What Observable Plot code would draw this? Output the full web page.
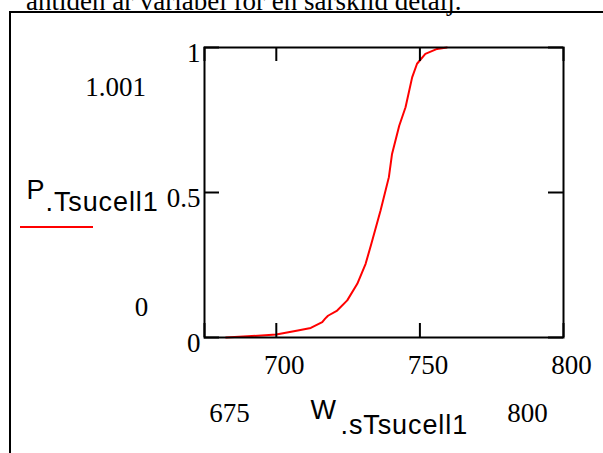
<!DOCTYPE html>
<html>
<head>
<meta charset="utf-8">
<script src="https://cdn.jsdelivr.net/npm/d3@7"></script>
<script src="https://cdn.jsdelivr.net/npm/@observablehq/plot@0.6"></script>
<style>
  html, body { margin: 0; padding: 0; background: #fff; color: #000; }
  #wrap { position: relative; width: 603px; height: 453px; overflow: hidden; background: #fff; }
  #outer { position: absolute; left: 9px; top: 11px; width: 700px; height: 600px; border-left: 2px solid #000; border-top: 2px solid #000; }
  #swatch { position: absolute; left: 20px; top: 226px; width: 73px; height: 2px; background: #ff0000; }
  #chart { position: absolute; left: 0; top: 0; }
  .wide text { letter-spacing: 0.9px; }
</style>
</head>
<body>
<div id="wrap">
  <div id="outer"></div>
  <div id="swatch"></div>
  <div id="chart"></div>
</div>
<script>
// Data (cumulative distribution)
const W = [682.5, 690, 700, 707.5, 712, 716, 717, 718, 721.2, 724.7, 728.2, 731.1, 733, 736.3, 739.2, 740.3, 742.8, 745, 747.3, 749, 751.9, 756, 759.4];
const P = [0, 0.004, 0.01, 0.024, 0.033, 0.053, 0.065, 0.075, 0.093, 0.128, 0.185, 0.254, 0.32, 0.438, 0.553, 0.633, 0.73, 0.794, 0.897, 0.944, 0.978, 0.995, 1.0];
const xTicks = [675, 700, 750, 800];
const xTickLabels = [700, 750, 800];
const yTicks = [0, 0.5, 1];
const xLimits = ["675", "800"];
const yLimits = ["1.001", "0"];
const caption = "antiden är variabel för en särskild detalj.";

const data = W.map((w, i) => ({w, p: P[i]}));
const serif = "Liberation Serif, Times New Roman, serif";
const sans = "Liberation Sans, Arial, sans-serif";
const fw = 359, fh = 290; // frame size in px

const txt = (s, o) => Plot.text([s], {text: d => d, frameAnchor: "top-left", lineAnchor: "bottom", fill: "black", ...o});

const chart = Plot.plot({
  width: 603,
  height: 453,
  marginLeft: 204,
  marginRight: 40,
  marginTop: 47,
  marginBottom: 116,
  style: {background: "none", overflow: "visible"},
  x: {domain: [675, 800]},
  y: {domain: [0, 1]},
  marks: [
    Plot.line(data, {x: "w", y: "p", stroke: "#ff0000", strokeWidth: 2}),
    Plot.frame({stroke: "black", strokeWidth: 2}),
    Plot.tickX(xTicks, {x: d => d, stroke: "black", strokeWidth: 2, insetTop: fh - 14}),
    Plot.tickX(xTicks, {x: d => d, stroke: "black", strokeWidth: 2, insetBottom: fh - 14}),
    Plot.tickY(yTicks, {y: d => d, stroke: "black", strokeWidth: 2, insetRight: fw - 15}),
    Plot.tickY(yTicks, {y: d => d, stroke: "black", strokeWidth: 2, insetLeft: fw - 15}),
    Plot.axisX({ticks: xTickLabels, tickSize: 0, tickPadding: 36, lineAnchor: "bottom", dx: 8, fontSize: 27, fontFamily: serif, label: null, tickFormat: d => String(d)}),
    Plot.axisY({ticks: yTicks, tickSize: 0, tickPadding: 4, lineAnchor: "bottom", dy: 14, fontSize: 27, fontFamily: serif, label: null, tickFormat: d => String(d)}),
    // Mathcad limit labels
    txt(yLimits[0], {dx: 115 - 204, dy: 95 - 47, textAnchor: "middle", fontSize: 27, fontFamily: serif}),
    txt(yLimits[1], {dx: 141 - 204, dy: 315 - 47, textAnchor: "middle", fontSize: 27, fontFamily: serif}),
    txt(xLimits[0], {dx: 229 - 204, dy: 421 - 47, textAnchor: "middle", fontSize: 27, fontFamily: serif}),
    txt(xLimits[1], {dx: 527 - 204, dy: 421 - 47, textAnchor: "middle", fontSize: 27, fontFamily: serif}),
    // axis variable names
    txt("W", {dx: 310 - 204, dy: 418 - 47, textAnchor: "start", fontSize: 27, fontFamily: sans}),
    txt(".sTsucell1", {dx: 340 - 204, dy: 433 - 47, textAnchor: "start", fontSize: 27, fontFamily: sans, className: "wide"}),
    txt("P", {dx: 26 - 204, dy: 198 - 47, textAnchor: "start", fontSize: 27, fontFamily: sans}),
    txt(".Tsucell1", {dx: 45 - 204, dy: 210 - 47, textAnchor: "start", fontSize: 27, fontFamily: sans, className: "wide"}),
    // partially visible caption text at the top
    txt(caption, {dx: 461 - 204, dy: 9 - 47, textAnchor: "end", fontSize: 27, fontFamily: serif})
  ]
});
document.getElementById("chart").appendChild(chart);
</script>
</body>
</html>
